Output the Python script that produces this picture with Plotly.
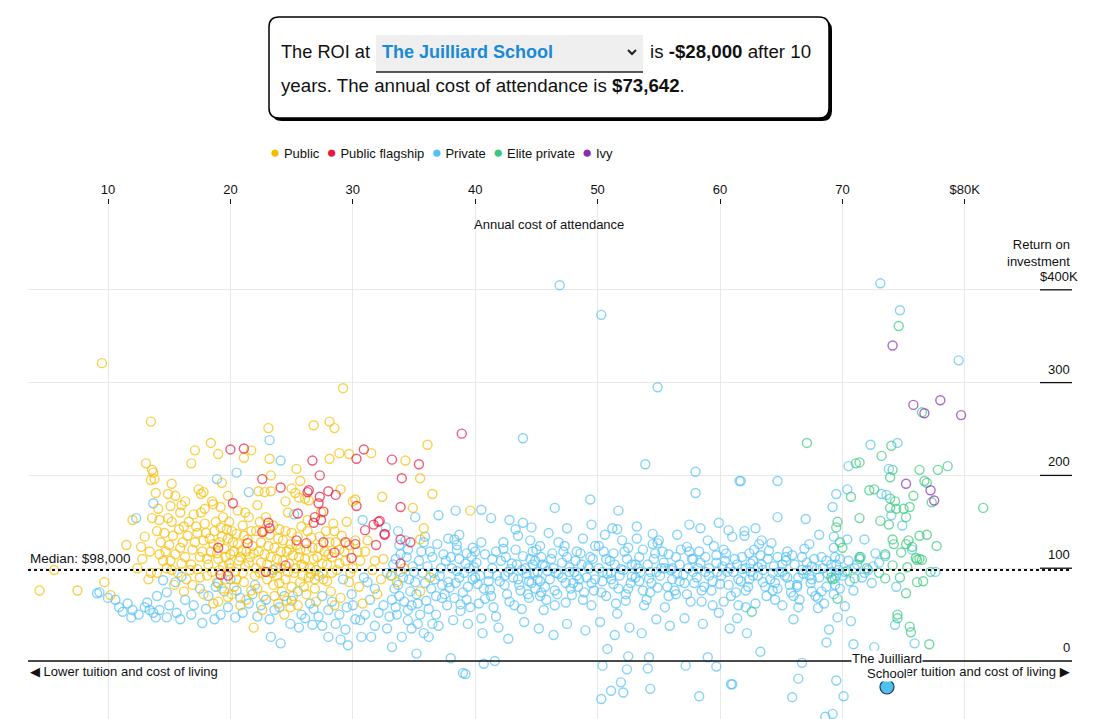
import plotly.graph_objects as go

# annual cost of attendance ($K) vs 10-year return on investment ($K)
public_pts = [
    (9.5, 321), (29.2, 294), (13.5, 258), (26.8, 254), (28.1, 258), (28.5, 251), (23.1, 251),
    (18.4, 235), (17.1, 227), (19.0, 223), (21.7, 227), (21.1, 219), (23.2, 218), (28.1, 218),
    (28.9, 224), (29.7, 223), (31.5, 224), (13.1, 213), (16.8, 213), (13.6, 206), (13.7, 203),
    (13.5, 195), (13.8, 196), (15.2, 191), (19.3, 192), (23.3, 200), (25.4, 207), (25.7, 194),
    (29.0, 185), (30.0, 172), (30.2, 174), (32.4, 177), (13.9, 181), (14.9, 180), (15.1, 167),
    (16.3, 172), (17.4, 185), (17.6, 180), (17.8, 182), (19.8, 178), (22.3, 183), (22.8, 182),
    (23.3, 183), (25.0, 186), (25.3, 181), (25.6, 176), (26.1, 175), (26.4, 173), (22.2, 168),
    (24.5, 172), (18.6, 169), (19.2, 166), (36.1, 233), (34.3, 216), (35.5, 197), (36.5, 180),
    (34.9, 165), (39.6, 162), (35.8, 143), (35.5, 131),
    (4.4, 76), (5.6, 98), (7.5, 76), (9.7, 85), (10.2, 71), (11.5, 125), (12.7, 123), (13.0, 134),
    (14.2, 115), (13.5, 95), (12.4, 100), (13.3, 88), (14.0, 95), (12.0, 152), (13.6, 154),
    (14.9, 154), (14.1, 164), (15.5, 178),
    (15.2, 150), (15.8, 142), (16.1, 128), (16.5, 135), (16.9, 120), (17.2, 145), (17.5, 112),
    (17.8, 130), (18.0, 138), (18.2, 104), (18.4, 118), (18.6, 126), (18.8, 150), (19.0, 110),
    (19.1, 98), (19.3, 134), (19.5, 121), (19.7, 142), (19.9, 105), (20.0, 115), (20.2, 128),
    (20.4, 96), (20.5, 137), (20.7, 108), (20.9, 119), (21.0, 146), (21.2, 102), (21.4, 131),
    (21.6, 112), (21.8, 124), (22.0, 92), (22.1, 140), (15.5, 115), (16.0, 105), (16.7, 98),
    (17.0, 158), (17.6, 160), (18.1, 92), (18.9, 85), (19.6, 88), (20.3, 80), (21.1, 85),
    (21.7, 76), (16.4, 88), (15.0, 125), (14.6, 138), (14.2, 152), (14.8, 100), (15.9, 160),
    (18.5, 172), (19.4, 155), (20.6, 162), (21.5, 155), (22.4, 150), (17.3, 99), (19.8, 69),
    (16.2, 75), (15.4, 82),
    (22.5, 128), (22.8, 115), (23.0, 104), (23.2, 136), (23.4, 95), (23.6, 122), (23.8, 110),
    (24.0, 142), (24.1, 100), (24.3, 130), (24.5, 88), (24.6, 118), (24.8, 105), (25.0, 138),
    (25.2, 95), (25.4, 125), (25.6, 112), (25.8, 145), (26.0, 102), (26.2, 120), (26.4, 90),
    (26.6, 133), (26.8, 110), (27.0, 98), (27.2, 122), (27.5, 105), (27.8, 140), (28.0, 115),
    (28.3, 95), (28.6, 128), (23.5, 82), (24.2, 75), (25.1, 70), (26.0, 80), (22.7, 70),
    (23.9, 62), (24.9, 58), (25.7, 85), (26.9, 78), (27.6, 88), (28.9, 105), (29.3, 118),
    (29.8, 95), (30.2, 130), (30.6, 108), (22.9, 155), (24.7, 160), (26.3, 152), (27.4, 160),
    (28.4, 148), (29.5, 150), (31.0, 118), (31.6, 98), (32.5, 110), (33.2, 92), (28.2, 75),
    (29.0, 68), (30.5, 80), (24.4, 50), (21.9, 36), (22.6, 55), (20.8, 60), (19.0, 64),
    (30.8, 62), (32.0, 72), (33.6, 85), (34.2, 100), (35.5, 75), (36.3, 90),
    (14.3, 128), (14.7, 118), (15.1, 108), (15.3, 135), (15.7, 95), (15.9, 122), (16.2, 145),
    (16.3, 112), (16.6, 150), (16.8, 104), (17.1, 128), (17.3, 138), (17.5, 90), (17.7, 118),
    (17.9, 148), (18.1, 110), (18.3, 132), (18.5, 96), (18.7, 140), (18.9, 116), (19.1, 128),
    (19.2, 144), (19.4, 102), (19.6, 112), (19.8, 132), (20.0, 100), (20.1, 140), (20.3, 118),
    (20.5, 88), (20.6, 126), (20.8, 112), (21.0, 95), (21.1, 135), (21.3, 118), (21.5, 106),
    (21.7, 140), (21.9, 116), (22.1, 100), (16.9, 82), (17.8, 72), (18.6, 62), (19.3, 78),
    (20.1, 72), (21.3, 66), (22.2, 78), (15.2, 98), (14.5, 108), (16.0, 168), (17.9, 164),
    (19.9, 150), (21.2, 160), (14.0, 140), (13.4, 118), (12.8, 110),
    (22.3, 118), (22.5, 106), (22.7, 140), (22.9, 96), (23.1, 124), (23.3, 112), (23.5, 146),
    (23.7, 100), (23.9, 132), (24.1, 118), (24.3, 108), (24.5, 140), (24.7, 96), (24.9, 126),
    (25.1, 114), (25.3, 100), (25.5, 134), (25.7, 120), (25.9, 92), (26.1, 110), (26.3, 140),
    (26.5, 100), (26.7, 122), (26.9, 88), (27.1, 112), (27.3, 134), (27.5, 95), (27.7, 118),
    (27.9, 104), (28.1, 128), (28.3, 112), (28.5, 140), (28.7, 98), (28.9, 120), (29.1, 135),
    (29.4, 108), (29.7, 125), (30.0, 100), (23.0, 88), (24.0, 84), (25.0, 80), (26.2, 72),
    (27.0, 64), (27.9, 86), (22.4, 95), (23.6, 70), (24.6, 65), (25.5, 60), (28.5, 60),
    (29.7, 85), (30.4, 118), (31.2, 130), (31.8, 108), (32.3, 88), (23.8, 92), (24.8, 120),
    (25.8, 104), (26.6, 94),
]

flagship_pts = [
    (21.1, 229), (20.0, 228), (26.7, 216), (30.3, 218), (30.9, 228), (22.6, 196), (27.3, 200),
    (24.1, 187), (26.3, 182), (26.4, 184), (28.0, 183), (28.6, 179), (27.3, 177), (27.2, 170),
    (30.3, 167), (20.2, 170), (38.9, 245), (33.2, 217), (35.4, 212), (34.0, 197), (33.9, 166),
    (32.2, 151), (32.6, 136), (33.9, 131), (34.7, 128), (19.2, 93), (19.8, 92), (22.9, 96),
    (24.5, 103), (21.4, 127), (19.0, 122), (23.1, 149), (23.2, 143), (22.6, 139), (25.4, 130),
    (26.2, 127), (26.8, 149), (26.9, 155), (27.4, 152), (27.6, 161), (25.5, 159), (27.6, 128),
    (28.5, 117), (29.4, 128), (30.2, 126), (29.9, 111), (31.0, 141), (31.7, 147), (32.1, 150),
    (31.9, 125), (32.6, 137), (33.9, 105),
]

private_pts = [
    (46.9, 405), (50.3, 373), (54.9, 295), (73.1, 407), (74.7, 378), (79.5, 324), (23.2, 238),
    (24.1, 216), (18.9, 196), (20.5, 203), (21.5, 182), (13.7, 170), (43.9, 240), (35.1, 155),
    (37.0, 157), (38.4, 162), (40.5, 163), (41.3, 154), (53.9, 212), (58.0, 204), (58.0, 181),
    (61.6, 194), (49.4, 174), (46.5, 165), (51.7, 162), (32.7, 144), (33.7, 140), (35.9, 134),
    (38.7, 136), (42.8, 152), (43.3, 142), (43.9, 149), (44.6, 144), (47.5, 143), (49.5, 147),
    (51.2, 143), (51.6, 142), (53.2, 145), (54.5, 137), (54.9, 127), (57.5, 147), (58.4, 143),
    (59.9, 149), (60.7, 141), (72.3, 233), (74.5, 235), (70.5, 210), (73.8, 207), (61.7, 194),
    (64.7, 194), (70.4, 185), (69.5, 180), (73.2, 180), (73.6, 179), (69.2, 166), (74.0, 157),
    (74.9, 146), (64.7, 155), (67.0, 153), (62.9, 143), (62.0, 140), (62.0, 135), (68.1, 136),
    (69.3, 134), (70.4, 131), (71.8, 131), (69.3, 122), (69.4, 112), (66.9, 121), (67.3, 126),
    (63.2, 126), (63.4, 130), (64.2, 127), (64.0, 119), (72.7, 116), (65.4, 112), (73.5, 113),
    (75.7, 120), (69.4, 89), (77.6, 96), (74.4, 80), (70.2, 59), (68.0, 68), (68.0, 57),
    (66.4, 58), (66.0, 45), (65.1, 60), (69.6, 47), (70.7, 43), (74.3, 39), (75.9, 19),
    (68.9, 34), (68.7, 20), (70.9, 18), (72.6, 15), (63.3, 10), (66.7, -2), (61.0, -25),
    (66.4, -19), (69.5, -21), (65.9, -39), (70.1, -38), (68.6, -60), (69.2, -57), (61.4, 46),
    (62.1, 58), (62.9, 62), (40.7, -3), (41.6, 0), (39.2, -14), (38.0, 3), (35.2, 8),
    (50.4, -5), (50.3, -41), (51.1, -32), (51.9, -23), (52.1, -34), (52.4, -9), (52.5, 5),
    (54.1, -8), (54.3, -30), (54.2, 4), (50.8, 13), (57.2, -5), (58.3, -38), (59.0, 4),
    (59.7, -6), (60.9, -25), (39.0, -13),
    (9.1, 73), (9.3, 74), (10.6, 66), (11.2, 53), (12.0, 55), (11.9, 47), (13.0, 58),
    (13.4, 55), (13.7, 52), (13.9, 47), (14.2, 55), (12.3, 154), (14.8, 47), (15.9, 45),
    (14.5, 87), (15.5, 85), (14.8, 74), (16.0, 91), (17.7, 41), (19.2, 50), (20.4, 47),
    (23.3, 26), (24.1, 19), (25.6, 36), (26.7, 39), (28.0, 26), (29.0, 23), (29.6, 17),
    (30.7, 26), (31.5, 26), (33.2, 15), (34.0, 26), (36.2, 26), (17.0, 60), (18.2, 70),
    (19.5, 75), (20.8, 68), (21.8, 72), (22.5, 60), (23.2, 45), (24.0, 58), (25.0, 65),
    (25.8, 50), (26.5, 62), (27.2, 48), (28.0, 55), (28.6, 40), (29.5, 58), (30.2, 45),
    (31.0, 50), (31.8, 38), (32.5, 60), (33.0, 48), (33.8, 70), (34.5, 55), (35.3, 40),
    (36.0, 65), (36.8, 50), (22.0, 82), (20.0, 88), (18.8, 80), (27.5, 70), (29.9, 72),
    (31.2, 85), (32.8, 95), (33.5, 110), (34.5, 120), (35.0, 96), (36.5, 112), (37.2, 100),
    (37.8, 85), (38.5, 120), (39.2, 105), (40.0, 90), (25.2, 158), (30.8, 152),
    (10.0, 68), (10.9, 58), (11.6, 62), (12.5, 50), (13.2, 63), (14.0, 70), (15.0, 60),
    (15.6, 52), (16.3, 66), (16.8, 50), (17.5, 78), (18.0, 56), (18.7, 45), (19.0, 84),
    (19.8, 58), (20.5, 76), (21.0, 52), (21.5, 62), (22.2, 48), (22.9, 66), (23.6, 55),
    (24.4, 70), (24.9, 40), (25.5, 75), (26.1, 46), (26.8, 56), (27.5, 38), (28.3, 64),
    (28.9, 50), (29.4, 34), (30.0, 60), (30.6, 44), (31.4, 66), (32.1, 52), (32.8, 35),
    (31.8, 78), (30.9, 90), (29.2, 88), (27.2, 92), (23.5, 98),
    (33.1, 92), (33.4, 78), (33.9, 115), (34.2, 64), (34.6, 88), (34.9, 102), (35.2, 72),
    (35.6, 118), (35.9, 84), (36.2, 56), (36.6, 95), (36.9, 126), (37.3, 68), (37.6, 108),
    (37.9, 79), (38.2, 44), (38.5, 97), (38.8, 61), (33.6, 50), (34.8, 35), (35.8, 30),
    (37.0, 38), (38.0, 112),
    (38.3, 131), (38.7, 90), (39.0, 74), (39.3, 116), (39.6, 58), (39.9, 101), (40.2, 83),
    (40.5, 128), (40.8, 67), (41.1, 94), (41.4, 110), (41.7, 48), (42.0, 86), (42.3, 121),
    (42.6, 72), (42.9, 99), (43.2, 60), (43.5, 135), (39.4, 40), (40.6, 30), (41.9, 36),
    (42.7, 24), (43.0, 105), (40.0, 118), (41.2, 77), (39.8, 88), (42.4, 92),
    (43.6, 82), (43.9, 113), (44.2, 94), (44.4, 68), (44.7, 104), (45.0, 120), (45.3, 86),
    (45.6, 55), (45.9, 97), (46.2, 110), (46.5, 76), (46.8, 128), (47.1, 90), (47.4, 63),
    (47.7, 101), (48.0, 84), (44.0, 42), (45.2, 35), (46.4, 28), (47.5, 40), (44.5, 130),
    (46.0, 138), (47.2, 118), (48.2, 108), (43.8, 98), (44.9, 108), (45.7, 102), (46.6, 95),
    (47.9, 71), (45.4, 74),
    (48.3, 92), (48.6, 116), (48.9, 74), (49.2, 102), (49.5, 60), (49.8, 88), (50.1, 124),
    (50.4, 96), (50.7, 70), (51.0, 108), (51.3, 83), (51.6, 51), (51.9, 99), (52.2, 118),
    (52.5, 78), (52.8, 91), (49.0, 33), (50.2, 42), (51.4, 28), (52.6, 36), (48.8, 132),
    (50.6, 136), (52.0, 130), (49.6, 110), (51.1, 95), (52.3, 65),
    (53.1, 104), (53.4, 86), (53.7, 120), (54.0, 66), (54.3, 96), (54.6, 110), (54.9, 79),
    (55.2, 100), (55.5, 58), (55.8, 115), (56.1, 88), (56.4, 72), (56.7, 104), (57.0, 93),
    (57.3, 123), (57.6, 64), (57.9, 84), (53.6, 30), (54.8, 45), (55.9, 38), (57.1, 46),
    (53.2, 132), (55.0, 130), (56.5, 136), (57.8, 110), (54.2, 89), (56.0, 98),
    (58.2, 100), (58.5, 76), (58.8, 112), (59.1, 92), (59.4, 60), (59.7, 106), (60.0, 83),
    (60.3, 120), (60.6, 96), (60.9, 70), (61.2, 110), (61.5, 88), (61.8, 99), (62.1, 76),
    (62.4, 116), (62.7, 92), (58.6, 40), (59.9, 52), (60.8, 35), (62.2, 30), (59.0, 130),
    (61.0, 134), (62.5, 105), (60.2, 102),
    (63.1, 101), (63.5, 85), (63.9, 110), (64.3, 95), (64.7, 78), (65.1, 104), (65.5, 90),
    (65.9, 114), (66.3, 82), (66.7, 98), (67.1, 106), (67.5, 88), (67.9, 99), (68.3, 75),
    (68.7, 108), (69.1, 96), (69.5, 104), (70.0, 92), (64.5, 66), (66.0, 70), (67.5, 75),
    (69.8, 78), (71.0, 100), (71.8, 95), (72.5, 102), (73.0, 106), (70.5, 108),
    (33.3, 104), (33.7, 82), (33.2, 66), (33.8, 125), (33.5, 58), (33.9, 96),
    (34.1, 90), (34.4, 112), (34.7, 75), (34.3, 130), (34.8, 60), (34.5, 44),
    (35.1, 85), (35.4, 108), (35.7, 95), (35.3, 62), (35.8, 128), (35.5, 50),
    (36.1, 102), (36.4, 78), (36.7, 88), (36.3, 118), (36.8, 70), (36.5, 40),
    (37.1, 92), (37.4, 115), (37.7, 60), (37.3, 82), (37.8, 132), (37.5, 72),
    (38.1, 100), (38.4, 84), (38.7, 110), (38.3, 68), (38.8, 54), (38.5, 125),
    (39.1, 95), (39.4, 80), (39.7, 112), (39.3, 66), (39.8, 122), (39.5, 100),
    (40.1, 106), (40.4, 92), (40.7, 78), (40.3, 62), (40.8, 115), (40.5, 46),
    (41.1, 86), (41.4, 100), (41.7, 118), (41.3, 70), (41.8, 92), (41.5, 58),
    (42.1, 108), (42.4, 82), (42.7, 96), (42.3, 128), (42.8, 64), (42.5, 112),
    (43.1, 90), (43.4, 104), (43.7, 76), (43.3, 120), (43.8, 56), (43.5, 88),
    (44.1, 100), (44.4, 86), (44.7, 118), (44.3, 72), (44.8, 95), (44.5, 110),
    (44.6, 84), (44.9, 78), (45.1, 88), (45.3, 70),
    (45.1, 96), (45.4, 112), (45.7, 80), (45.3, 124), (45.8, 66), (45.5, 104),
    (46.1, 88), (46.4, 100), (46.7, 72), (46.3, 116), (46.8, 94), (46.5, 60),
    (47.1, 106), (47.4, 84), (47.7, 96), (47.3, 124), (47.8, 78), (47.5, 112),
    (48.1, 96), (48.4, 80), (48.7, 104), (48.3, 118), (48.8, 66), (48.5, 88),
    (49.1, 90), (49.4, 112), (49.7, 76), (49.3, 100), (49.8, 124), (49.5, 84),
    (50.1, 100), (50.4, 86), (50.7, 110), (50.3, 74), (50.8, 94), (50.5, 118),
    (51.1, 88), (51.4, 104), (51.7, 78), (51.3, 116), (51.8, 92), (51.5, 62),
    (52.1, 98), (52.4, 110), (52.7, 84), (52.3, 72), (52.8, 104), (52.5, 122),
    (53.1, 90), (53.4, 112), (53.7, 76), (53.3, 100), (53.8, 60), (53.5, 96),
    (54.1, 104), (54.4, 84), (54.7, 116), (54.3, 74), (54.8, 96), (54.5, 126),
    (55.1, 92), (55.4, 106), (55.7, 80), (55.3, 118), (55.8, 70), (55.5, 100),
    (56.1, 100), (56.4, 112), (56.7, 86), (56.3, 76), (56.8, 120), (56.5, 94),
    (57.1, 84), (57.4, 100), (57.7, 110), (57.3, 72), (57.8, 96), (57.5, 118),
    (58.1, 90), (58.4, 106), (58.7, 80), (58.3, 118), (58.8, 96), (58.5, 64),
    (59.1, 100), (59.4, 86), (59.7, 114), (59.3, 76), (59.8, 96), (59.5, 124),
    (60.1, 92), (60.4, 108), (60.7, 82), (60.3, 64), (60.8, 100), (60.5, 116),
    (61.1, 96), (61.4, 104), (61.7, 86), (61.3, 74), (61.8, 112), (61.5, 60),
    (62.1, 100), (62.4, 88), (62.7, 108), (62.3, 80), (62.8, 120), (62.5, 96),
    (63.1, 92), (63.4, 104), (63.7, 80), (63.3, 114), (63.8, 70), (63.5, 98),
    (64.1, 88), (64.4, 102), (64.7, 112), (64.3, 76), (64.8, 96), (64.5, 84),
    (65.1, 96), (65.4, 108), (65.7, 82), (65.3, 92), (65.8, 74), (65.5, 118),
    (66.1, 104), (66.4, 90), (66.7, 112), (66.3, 80), (66.8, 94), (66.5, 66),
    (67.1, 98), (67.4, 84), (67.7, 110), (67.3, 92), (67.8, 70), (67.5, 102),
    (68.1, 90), (68.4, 100), (68.7, 80), (68.3, 112), (68.8, 94), (68.5, 62),
    (69.1, 104), (69.4, 82), (69.7, 98), (69.3, 72), (69.8, 110), (69.5, 92),
    (70.2, 96), (70.6, 86), (71.2, 104), (71.6, 90), (72.1, 98), (72.4, 84), (70.9, 76),
    (71.5, 112),
]

elite_pts = [
    (74.6, 361), (76.5, 268), (67.1, 235), (74.0, 232), (73.2, 221), (71.1, 213), (71.4, 214),
    (74.1, 206), (73.9, 198), (76.3, 206), (77.8, 206), (78.6, 210), (76.7, 194), (76.9, 192),
    (77.3, 171), (81.5, 165), (70.7, 177), (72.2, 184), (72.6, 185), (73.9, 175), (74.3, 172),
    (75.8, 178), (73.9, 165), (74.4, 164), (75.0, 164), (75.5, 166), (75.2, 155), (71.4, 154),
    (73.1, 151), (69.6, 150), (69.5, 144), (73.8, 147), (69.8, 128), (70.0, 122), (74.1, 131),
    (74.2, 126), (75.2, 126), (75.4, 130), (75.7, 123), (76.3, 135), (76.9, 136), (77.7, 124),
    (71.4, 112), (76.0, 111), (76.3, 110), (71.4, 110), (74.1, 103), (75.3, 101), (76.1, 109),
    (76.5, 109), (70.4, 97), (71.0, 89), (69.2, 88), (69.1, 90), (73.5, 89), (74.7, 90),
    (76.1, 85), (76.6, 86), (75.2, 73), (69.6, 67), (62.6, 53), (74.5, 50), (74.5, 46),
    (75.5, 37), (75.6, 31), (77.1, 18), (73.5, 115), (74.8, 117), (72.0, 100), (73.0, 95),
    (77.2, 96),
]

ivy_pts = [
    (74.1, 340), (78.0, 281), (75.8, 276), (76.7, 267), (79.7, 265), (75.2, 191), (77.2, 184),
    (77.5, 173),
]

categories = ["Public", "Public flagship", "Private", "Elite private", "Ivy"]
cat_colors = ["#f5bd00", "#e8173f", "#52c1f5", "#38c97a", "#8a2bb3"]

school_name = "The Juilliard School"
school_label = ["The Juilliard", "School"]
school_cost = 73.642
school_roi = -28
median_roi = 98

cost_ticks = [10, 20, 30, 40, 50, 60, 70, 80]
cost_labels = ["10", "20", "30", "40", "50", "60", "70", "$80K"]
roi_ticks = [0, 100, 200, 300, 400]
roi_labels = ["0", "100", "200", "300", "$400K"]

FONT = "Liberation Sans, Arial, DejaVu Sans, sans-serif"

# page geometry: the html body adds an 8px margin, so the figure is 8px smaller
OFF = 8
W, H = 1108 - OFF, 719 - OFF
ML, MR, MT, MB = 28 - OFF, 36, 205 - OFF, 0
PW = W - ML - MR
PH = H - MT - MB


def px(p):  # page pixel -> paper x
    return (p - OFF - ML) / PW


def py(p):  # page pixel -> paper y
    return (H + OFF - MB - p) / PH


def rounded_box(x0, y0, x1, y1, r):
    pts = [
        ("M", x0 + r, y0), ("L", x1 - r, y0), ("Q", x1, y0, x1, y0 + r),
        ("L", x1, y1 - r), ("Q", x1, y1, x1 - r, y1), ("L", x0 + r, y1),
        ("Q", x0, y1, x0, y1 - r), ("L", x0, y0 + r), ("Q", x0, y0, x0 + r, y0),
    ]
    out = ""
    for p in pts:
        cmd, coords = p[0], p[1:]
        s = []
        for i in range(0, len(coords), 2):
            s.append(f"{px(coords[i]):.5f},{py(coords[i + 1]):.5f}")
        out += cmd + " " + " ".join(s) + " "
    return out + "Z"


def rgba(hex_color, a):
    h = hex_color.lstrip("#")
    return f"rgba({int(h[0:2], 16)},{int(h[2:4], 16)},{int(h[4:6], 16)},{a})"


fig = go.Figure()

series = {
    "Public": public_pts,
    "Public flagship": flagship_pts,
    "Private": private_pts,
    "Elite private": elite_pts,
    "Ivy": ivy_pts,
}
draw_order = ["Private", "Public", "Public flagship", "Elite private", "Ivy"]
for name in draw_order:
    pts = series[name]
    col = cat_colors[categories.index(name)]
    fig.add_trace(go.Scatter(
        x=[p[0] for p in pts], y=[p[1] for p in pts], mode="markers", name=name,
        marker=dict(symbol="circle-open", size=9, color=rgba(col, 0.7), line=dict(width=1.4)),
        hoverinfo="skip", showlegend=False,
    ))

fig.add_trace(go.Scatter(
    x=[school_cost], y=[school_roi], mode="markers", showlegend=False, hoverinfo="skip",
    marker=dict(size=14, color="#4fc0f2", line=dict(color="#1d3a52", width=1.2)),
))

shapes = []
# shadowed select box
shapes.append(dict(type="path", xref="paper", yref="paper", path=rounded_box(272, 20, 832, 121, 10),
                   fillcolor="#000", line=dict(width=0), layer="above"))
shapes.append(dict(type="path", xref="paper", yref="paper", path=rounded_box(269, 17, 829, 118, 10),
                   fillcolor="#fff", line=dict(color="#000", width=1.5), layer="above"))
shapes.append(dict(type="rect", xref="paper", yref="paper", x0=px(376), x1=px(643), y0=py(72), y1=py(35),
                   fillcolor="#efefef", line=dict(width=0), layer="above"))
shapes.append(dict(type="line", xref="paper", yref="paper", x0=px(376), x1=px(643), y0=py(72), y1=py(72),
                   line=dict(color="#222", width=1.5), layer="above"))
shapes.append(dict(type="path", xref="paper", yref="paper",
                   path=f"M {px(628)},{py(50)} L {px(632)},{py(54)} L {px(636)},{py(50)}",
                   line=dict(color="#222", width=2), layer="above"))

# median and zero lines
shapes.append(dict(type="line", xref="paper", yref="y", x0=0, x1=1, y0=median_roi, y1=median_roi,
                   line=dict(color="#111", width=2, dash="dot"), layer="above"))
shapes.append(dict(type="line", xref="paper", yref="y", x0=0, x1=1, y0=0, y1=0,
                   line=dict(color="#111", width=1.3), layer="above"))
for v in roi_ticks[1:]:
    shapes.append(dict(type="line", xref="paper", yref="y", x0=px(1040), x1=1, y0=v, y1=v,
                       line=dict(color="#111", width=1.3), layer="above"))

annotations = []
txt = dict(family=FONT, size=18.7, color="#111")
annotations.append(dict(xref="paper", yref="paper", x=px(279), y=py(52), xanchor="left", yanchor="middle",
                        text="The ROI at", showarrow=False, font=dict(family=FONT, size=18.2, color="#111")))
annotations.append(dict(xref="paper", yref="paper", x=px(380), y=py(52), xanchor="left", yanchor="middle",
                        text=f"<b>{school_name}</b>", showarrow=False,
                        font=dict(family=FONT, size=18, color="#1a8ad4")))
annotations.append(dict(xref="paper", yref="paper", x=px(648), y=py(52), xanchor="left", yanchor="middle",
                        text=f"is <b>-${abs(school_roi)},000</b> after 10", showarrow=False, font=txt))
annotations.append(dict(xref="paper", yref="paper", x=px(279), y=py(86), xanchor="left", yanchor="middle",
                        text=f"years. The annual cost of attendance is <b>${school_cost * 1000:,.0f}</b>.",
                        showarrow=False, font=txt))

legend_txt = "  ".join(
    f'<span style="color:{c};font-size:17px">●</span> {n}' for n, c in zip(categories, cat_colors))
annotations.append(dict(xref="paper", yref="paper", x=px(268), y=py(153), xanchor="left", yanchor="middle",
                        text=legend_txt, showarrow=False, font=dict(family=FONT, size=13, color="#111")))

annotations.append(dict(xref="paper", yref="paper", x=px(549), y=py(224), xanchor="center", yanchor="middle",
                        text="Annual cost of attendance", showarrow=False,
                        font=dict(family=FONT, size=13, color="#111")))
annotations.append(dict(xref="paper", yref="paper", x=1, y=py(253), xanchor="right", yanchor="middle",
                        text="Return on<br>investment", showarrow=False, align="right",
                        font=dict(family=FONT, size=13, color="#111")))
for v, lab in zip(roi_ticks, roi_labels):
    annotations.append(dict(xref="paper", yref="y", x=1, y=v, xanchor="right", yanchor="bottom",
                            xshift=8 if lab.startswith("$") else 0, yshift=4,
                            text=lab, showarrow=False, font=dict(family=FONT, size=13, color="#111")))

annotations.append(dict(xref="paper", yref="y", x=0, y=median_roi, xanchor="left", yanchor="bottom", yshift=2,
                        text=f"Median: ${median_roi},000", showarrow=False,
                        font=dict(family=FONT, size=13.5, color="#111")))
annotations.append(dict(xref="paper", yref="y", x=0, y=0, xanchor="left", yanchor="top", yshift=-1,
                        text="◀ Lower tuition and cost of living", showarrow=False,
                        font=dict(family=FONT, size=13, color="#111")))
annotations.append(dict(xref="paper", yref="y", x=1, y=0, xanchor="right", yanchor="top", yshift=-1,
                        text="Higher tuition and cost of living ▶", showarrow=False,
                        font=dict(family=FONT, size=13, color="#111")))
for i, line in enumerate(reversed(school_label)):
    annotations.append(dict(xref="x", yref="y", x=school_cost, y=school_roi, xanchor="center",
                            yanchor="bottom", yshift=5 + 15 * i, text=line, showarrow=False,
                            bgcolor="#fff", borderpad=0, font=dict(family=FONT, size=13, color="#111")))

fig.update_layout(
    width=W, height=H,
    margin=dict(l=ML, r=MR, t=MT, b=MB),
    paper_bgcolor="#fff", plot_bgcolor="#fff",
    font=dict(family=FONT, size=13, color="#111"),
    showlegend=False,
    shapes=shapes,
    annotations=annotations,
    xaxis=dict(
        range=[3.46, 88.76], side="top", tickvals=cost_ticks, ticktext=cost_labels,
        ticks="outside", ticklen=5, tickcolor="#111", tickwidth=1,
        showgrid=True, gridcolor="#e8e8e8", zeroline=False, showline=False,
        tickfont=dict(family=FONT, size=13, color="#111"),
    ),
    yaxis=dict(
        range=[-62.5, 491.4], tickvals=roi_ticks, showticklabels=False,
        showgrid=True, gridcolor="#e8e8e8", zeroline=False, showline=False,
    ),
)

fig.write_html("out.html")
